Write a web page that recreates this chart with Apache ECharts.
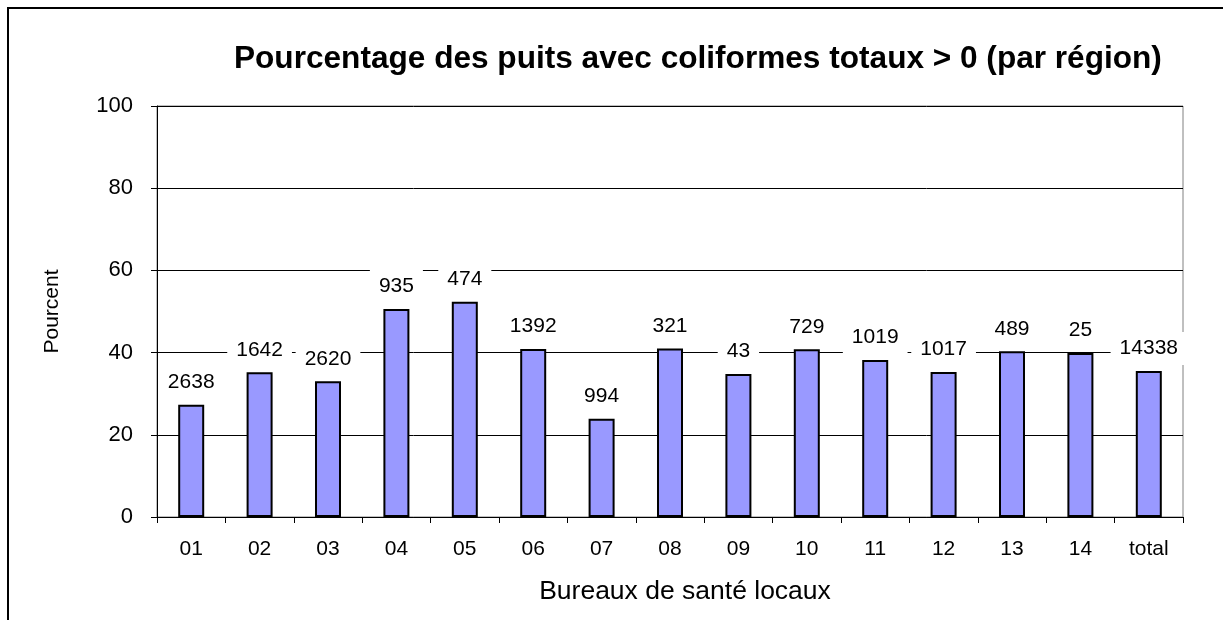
<!DOCTYPE html>
<html>
<head>
<meta charset="utf-8">
<script src="https://cdn.jsdelivr.net/npm/echarts@6/dist/echarts.min.js"></script>
<style>
  html, body { margin: 0; padding: 0; background: #fff; }
  #chart { width: 1223px; height: 620px; }
</style>
</head>
<body>
<div id="chart"></div>
<script>
// régions (bureaux de santé locaux)
const categories = ['01', '02', '03', '04', '05', '06', '07', '08', '09', '10', '11', '12', '13', '14', 'total']
// pourcentage des puits avec coliformes totaux > 0
const percents = [27.3, 35.2, 33.0, 50.6, 52.4, 40.9, 23.9, 41.0, 34.8, 40.8, 38.2, 35.3, 40.3, 39.9, 35.5]
// nombre de puits (étiquettes au-dessus des barres)
const counts = ['2638', '1642', '2620', '935', '474', '1392', '994', '321', '43', '729', '1019', '1017', '489', '25', '14338']

const font = "'Liberation Sans', Arial, sans-serif"

const barData = percents.map((v, i) => ({ value: v, count: counts[i] }))

const chart = echarts.init(document.getElementById('chart'))
chart.setOption({
  animation: false,
  backgroundColor: '#fff',
  title: {
    text: 'Pourcentage des puits avec coliformes totaux > 0 (par région)',
    left: 229,
    top: 38,
    textStyle: { fontFamily: font, fontWeight: 'bold', fontSize: 31.6, color: '#000' }
  },
  graphic: [
    {
      type: 'rect',
      shape: { x: 8, y: 8, width: 1400, height: 800 },
      style: { fill: 'none', stroke: '#000', lineWidth: 2 },
      z: 100
    }
  ],
  grid: {
    left: 157,
    right: 40,
    top: 106,
    bottom: 103,
    show: true,
    borderColor: '#808080',
    borderWidth: 1
  },
  xAxis: {
    type: 'category',
    data: categories,
    name: 'Bureaux de santé locaux',
    nameLocation: 'middle',
    nameGap: 61,
    nameTextStyle: { fontFamily: font, fontSize: 26.5, color: '#000', padding: [0, 0, 0, 30] },
    axisLine: { lineStyle: { color: '#000', width: 1 } },
    axisTick: { show: true, length: 6, lineStyle: { color: '#000' } },
    axisLabel: { fontFamily: font, fontSize: 21, color: '#000', margin: 22 }
  },
  yAxis: {
    type: 'value',
    min: 0,
    max: 100,
    interval: 20,
    name: 'Pourcent',
    nameLocation: 'middle',
    nameRotate: 90,
    nameGap: 94,
    nameTextStyle: { fontFamily: font, fontSize: 21, color: '#000' },
    axisLine: { show: true, lineStyle: { color: '#000', width: 1 } },
    axisTick: { show: true, length: 6, lineStyle: { color: '#000' } },
    axisLabel: { fontFamily: font, fontSize: 22, color: '#000', margin: 24 },
    splitLine: { show: true, lineStyle: { color: '#000', width: 1 } }
  },
  series: [
    {
      type: 'bar',
      data: barData,
      barWidth: 26,
      itemStyle: { color: '#9999ff', borderColor: '#000', borderWidth: 2 },
      label: {
        show: true,
        position: 'top',
        distance: 6,
        formatter: (p) => p.data.count,
        fontFamily: font,
        fontSize: 21,
        lineHeight: 21,
        color: '#000',
        backgroundColor: '#fff',
        padding: [6, 9, 6, 9]
      }
    }
  ]
})
</script>
</body>
</html>
